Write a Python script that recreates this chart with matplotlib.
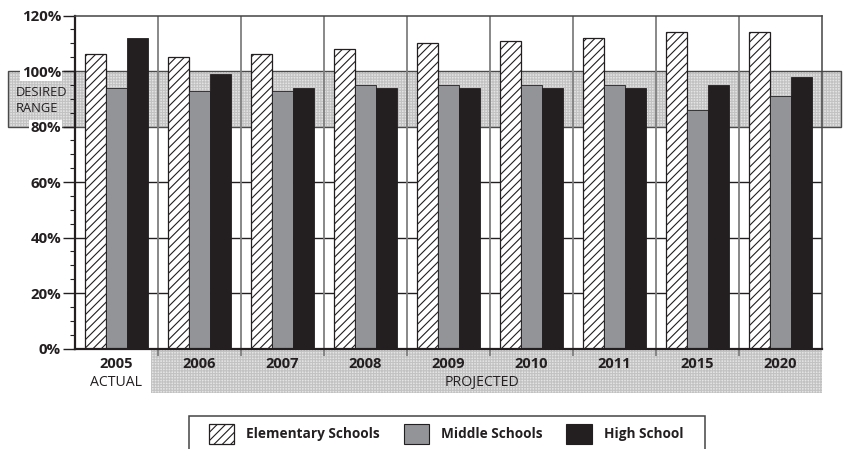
import matplotlib
matplotlib.use("Agg")
from matplotlib import pyplot as plt
from matplotlib.patches import Rectangle, Patch
from matplotlib.transforms import blended_transform_factory
import numpy as np

years = ['2005', '2006', '2007', '2008', '2009', '2010', '2011', '2015', '2020']
elementary = [106, 105, 106, 108, 110, 111, 112, 114, 114]
middle = [94, 93, 93, 95, 95, 95, 95, 86, 91]
high = [112, 99, 94, 94, 94, 94, 94, 95, 98]
series_names = ['Elementary Schools', 'Middle Schools', 'High School']
desired_low, desired_high = 80, 100

plt.rcParams['font.family'] = ['Open Sans', 'DejaVu Sans']
plt.rcParams['hatch.linewidth'] = 0.8

dark = '#231f20'
mid = '#929497'
stip_face = '#e4e4e4'
stip_dots = '#c2c2c2'

fig = plt.figure(figsize=(8.51, 4.49), dpi=100)
ax = fig.add_axes([0.0881, 0.2236, 0.8778, 0.7417])

x = np.arange(len(years))
w = 0.25
ax.bar(x - w, elementary, width=w, color='white', edgecolor=dark, hatch='////', linewidth=0.9, zorder=3)
ax.bar(x, middle, width=w, color=mid, edgecolor=dark, linewidth=0.6, zorder=3)
ax.bar(x + w, high, width=w, color=dark, edgecolor=dark, linewidth=0.6, zorder=3)

ax.set_xlim(-0.5, len(years) - 0.5)
ax.set_ylim(0, 120)

# desired range band, spills outside the axes
ax.add_patch(Rectangle((-1.307, desired_low), 10.036, desired_high - desired_low, facecolor=stip_face,
                       edgecolor=stip_dots, hatch='++++++', linewidth=0, zorder=1, clip_on=False))
ax.add_patch(Rectangle((-1.307, desired_low), 10.036, desired_high - desired_low, facecolor='none',
                       edgecolor='#4a4a4a', linewidth=1.0, zorder=1.5, clip_on=False))
fig.text(16 / 851, 1 - 93 / 449, 'DESIRED', fontsize=9.3, va='center', ha='left', color=dark)
fig.text(16 / 851, 1 - 108 / 449, 'RANGE', fontsize=9.3, va='center', ha='left', color=dark)

# horizontal lines behind bars
for yv in [20, 40, 60]:
    ax.axhline(yv, color=dark, linewidth=1.0, zorder=2)
# vertical separators
for xb in np.arange(0.5, len(years) - 0.5, 1):
    ax.axvline(xb, color='#7f7f7f', linewidth=1.3, zorder=2)

# y axis
ax.set_yticks(np.arange(0, 121, 20))
ax.set_yticks(np.arange(0, 121, 5), minor=True)
ax.set_yticklabels(['%d%%' % v for v in range(0, 121, 20)], fontsize=10.8, fontweight='bold', color=dark)
ax.tick_params(axis='y', which='major', length=9, width=1.0, color=dark, pad=1)
ax.tick_params(axis='y', which='minor', length=3.5, width=0.8, color=dark)
for lab in ax.get_yticklabels():
    if lab.get_text() in ('80%', '100%'):
        lab.set_bbox(dict(facecolor='white', edgecolor='none', pad=1.0))

# x axis: separator ticks, labels in between
ax.set_xticks(np.arange(0.5, len(years) - 0.5, 1))
ax.set_xticklabels([])
ax.tick_params(axis='x', which='major', length=5, width=1.3, color='#7f7f7f')
ax.set_xticks(x, minor=True)
ax.set_xticklabels(years, minor=True, fontsize=10.5, fontweight='bold', color=dark)
ax.tick_params(axis='x', which='minor', length=0, pad=6)

for s in ['left', 'bottom']:
    ax.spines[s].set_linewidth(1.6)
    ax.spines[s].set_color(dark)
for s in ['top', 'right']:
    ax.spines[s].set_linewidth(1.1)
    ax.spines[s].set_color('#444444')
for s in ax.spines.values():
    s.set_zorder(4)

# projected band under the x labels
trans = blended_transform_factory(ax.transData, ax.transAxes)
ax.add_patch(Rectangle((0.41, -0.133), len(years) - 0.91, 0.131, transform=trans, facecolor=stip_face,
                       edgecolor=stip_dots, hatch='++++++', linewidth=0, zorder=0, clip_on=False))
ax.text(0, -0.103, 'ACTUAL', transform=trans, ha='center', va='center', fontsize=10.2, color=dark)
ax.text(4.40, -0.103, 'PROJECTED', transform=trans, ha='center', va='center', fontsize=10.2, color=dark)

# legend, frame runs off the bottom edge
handles = [Patch(facecolor='white', edgecolor=dark, hatch='////', linewidth=0.9),
           Patch(facecolor=mid, edgecolor=dark, linewidth=0.8),
           Patch(facecolor=dark, edgecolor=dark, linewidth=0.8)]
leg = fig.legend(handles, series_names, loc='center', bbox_to_anchor=(446 / 851, 1 - 434 / 449), ncol=3,
                 frameon=False, handlelength=1.9, handleheight=1.9, columnspacing=1.75,
                 handletextpad=0.85, borderpad=0, prop={'size': 9.8, 'weight': 'bold'})
for t in leg.get_texts():
    t.set_color(dark)
fig.patches.append(Rectangle((189 / 851, -0.05), 516 / 851, 0.05 + 33 / 449, transform=fig.transFigure,
                             facecolor='none', edgecolor='#444444', linewidth=1.1))

plt.savefig('out.png', dpi=100)
